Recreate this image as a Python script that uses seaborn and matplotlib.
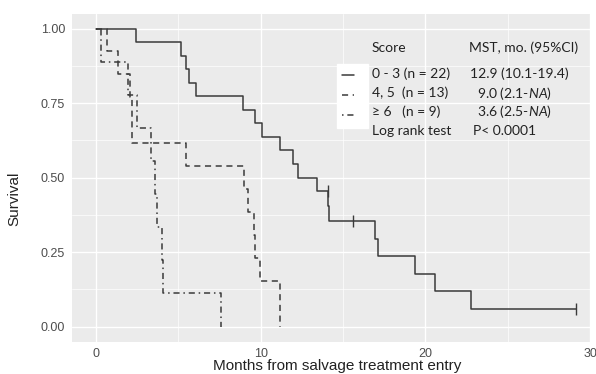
import numpy as np
import pandas as pd
import seaborn as sns
import matplotlib.pyplot as plt
from matplotlib.lines import Line2D

# Kaplan-Meier steps
groups = ['0 - 3', '4, 5', '>= 6']

months_03 = [0, 2.42, 5.19, 5.45, 5.64, 6.1, 8.9, 9.68, 10.1, 11.15, 11.96, 12.26, 13.43,
             14.08, 14.18, 16.97, 17.15, 19.37, 20.6, 22.8, 29.15]
surv_03 = [1.0, 0.955, 0.909, 0.864, 0.818, 0.773, 0.727, 0.682, 0.636, 0.591, 0.545, 0.5, 0.455,
           0.404, 0.354, 0.295, 0.236, 0.177, 0.118, 0.059, 0.059]

months_45 = [0, 0.65, 1.35, 2.05, 2.16, 5.49, 8.97, 9.23, 9.58, 9.65, 9.98, 11.2]
surv_45 = [1.0, 0.923, 0.846, 0.769, 0.615, 0.538, 0.462, 0.385, 0.308, 0.231, 0.154, 0.0]

months_6 = [0, 0.3, 1.95, 2.5, 3.33, 3.58, 3.71, 3.98, 4.08, 7.62]
surv_6 = [1.0, 0.889, 0.778, 0.667, 0.556, 0.444, 0.333, 0.222, 0.111, 0.0]

censor_months = [14.08, 15.6, 29.15]
censor_surv = [0.455, 0.354, 0.059]

x_ticks = [0, 10, 20, 30]
y_ticks = [0.0, 0.25, 0.5, 0.75, 1.0]
y_ticklabels = ['0.00', '0.25', '0.50', '0.75', '1.00']

legend_rows = ['0 - 3 (n = 22)', '4, 5  (n = 13)', '\u2265 6   (n = 9)']
mst_rows = ['12.9 (10.1-19.4)', '9.0 (2.1-$\\mathit{NA}$)', '3.6 (2.5-$\\mathit{NA}$)']

W, H = 596, 374


def px(x, y):
    return x / W, 1 - y / H


def main():
    df = pd.concat([
        pd.DataFrame({'month': months_03, 'survival': surv_03, 'group': groups[0]}),
        pd.DataFrame({'month': months_45, 'survival': surv_45, 'group': groups[1]}),
        pd.DataFrame({'month': months_6, 'survival': surv_6, 'group': groups[2]}),
    ], ignore_index=True)

    sns.set_theme(style='darkgrid')
    plt.rcParams['font.family'] = ['Liberation Sans', 'DejaVu Sans']
    plt.rcParams['mathtext.fontset'] = 'custom'
    plt.rcParams['mathtext.rm'] = 'Lato'
    plt.rcParams['mathtext.it'] = 'Lato:italic'

    fig = plt.figure(figsize=(W / 100, H / 100), dpi=100)
    fig.patch.set_facecolor('white')
    ax = fig.add_axes([72 / W, 1 - 342 / H, (590 - 72) / W, (342 - 13.6) / H])
    ax.set_facecolor('#EBEBEB')

    line_color = '#3a3a3a'
    dashes = {groups[0]: '', groups[1]: (4, 3), groups[2]: (1, 2.5, 4, 2.5)}
    sns.lineplot(data=df, x='month', y='survival', style='group', dashes=dashes,
                 color=line_color, linewidth=1.1, estimator=None, sort=False,
                 drawstyle='steps-post', legend=False, ax=ax)
    sns.scatterplot(x=censor_months, y=censor_surv, marker='|', s=70, linewidth=1.0,
                    color=line_color, ax=ax, zorder=3)

    ax.set_xlim(-1.455, 29.94)
    ax.set_ylim(-0.052, 1.05)
    ax.set_xticks(x_ticks)
    ax.set_yticks(y_ticks)
    ax.set_yticklabels(y_ticklabels)
    ax.set_xticks([5, 15, 25], minor=True)
    ax.set_yticks([0.125, 0.375, 0.625, 0.875], minor=True)
    ax.grid(which='major', color='white', linewidth=1.0)
    ax.grid(which='minor', color='white', linewidth=0.5)
    for s in ax.spines.values():
        s.set_visible(False)
    ax.tick_params(axis='both', which='major', length=3, width=0.8, color='#333333',
                   labelcolor='#4D4D4D', labelsize=9, pad=2)
    ax.tick_params(axis='x', which='major', pad=1.5)
    ax.tick_params(which='minor', length=0)

    ax.set_xlabel('Months from salvage treatment entry', fontsize=11, color='#222222')
    ax.set_ylabel('Survival', fontsize=11, color='#222222')
    ax.xaxis.set_label_coords((337 - 72) / (590 - 72), -(359 - 342) / (342 - 13.6))
    ax.yaxis.set_label_coords(-(72 - 21) / (590 - 72), (342 - 199) / (342 - 13.6))

    handles = [Line2D([], [], color=line_color, linewidth=1.1, dashes=d) if d != ''
               else Line2D([], [], color=line_color, linewidth=1.1)
               for d in dashes.values()]
    leg = ax.legend(handles=handles, labels=['', '', ''], loc='upper left',
                    bbox_to_anchor=px(337, 64), bbox_transform=fig.transFigure,
                    fontsize=10, handlelength=0.9, handletextpad=0.65, labelspacing=0.45,
                    borderpad=0.35, borderaxespad=0, frameon=True, fancybox=False)
    leg.get_frame().set_facecolor('white')
    leg.get_frame().set_edgecolor('white')
    leg.get_frame().set_alpha(1)

    tfont = dict(family=['Lato', 'DejaVu Sans'], fontsize=10, color='#222222', va='center')
    fig.text(*px(372, 48), 'Score', **tfont)
    fig.text(*px(469, 48), 'MST, mo. (95%CI)', **tfont)
    row_y = [74, 93, 112]
    mst_x = [470, 477, 477]
    for label, mst, y, xm in zip(legend_rows, mst_rows, row_y, mst_x):
        fig.text(*px(372, y), label, **tfont)
        fig.text(*px(xm, y), mst, **tfont)
    fig.text(*px(372, 131), 'Log rank test', **tfont)
    fig.text(*px(473, 131), 'P< 0.0001', **tfont)

    fig.savefig('out.png', dpi=100)


if __name__ == '__main__':
    main()
